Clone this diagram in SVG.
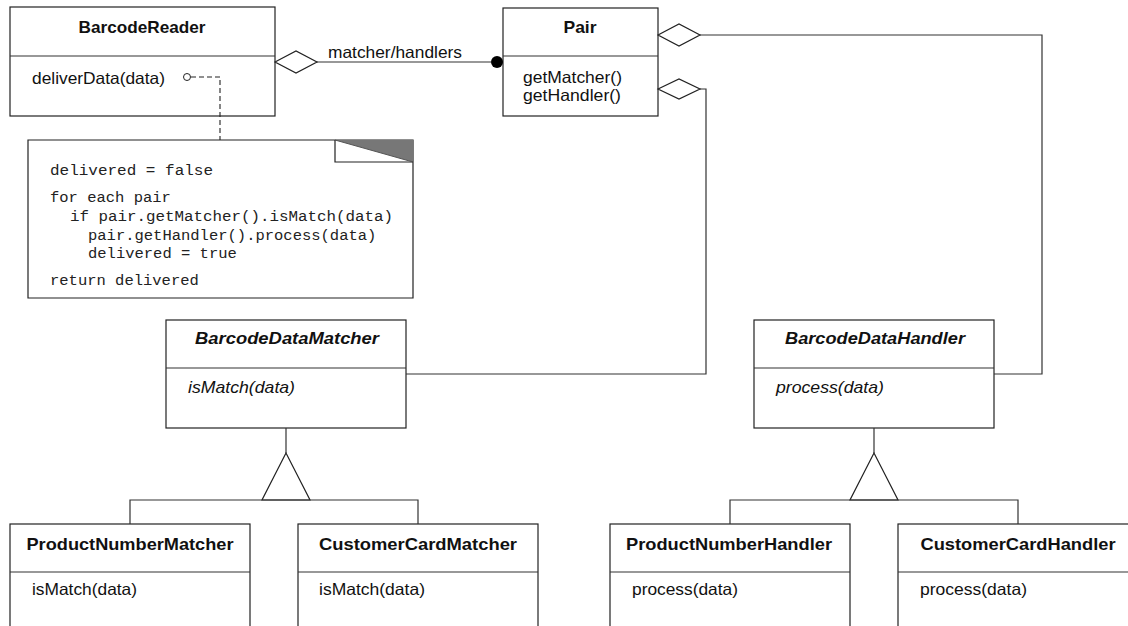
<svg xmlns="http://www.w3.org/2000/svg" width="1128" height="626" viewBox="0 0 1128 626">
<style>
.box{fill:#fff;stroke:#222;stroke-width:1.2}
.ln{fill:none;stroke:#333;stroke-width:1.2}
.dia{fill:#fff;stroke:#222;stroke-width:1.2}
.t{font-family:"Liberation Sans",Arial,sans-serif;font-size:16.5px;fill:#111}
.b{font-weight:bold;text-anchor:middle}
.i{font-style:italic}
.m{font-family:"Liberation Mono","Courier New",monospace;font-size:15.5px;fill:#222}
</style>
<rect width="1128" height="626" fill="#fff"/>
<g id="BarcodeReader">
  <rect class="box" x="10" y="7" width="265" height="109"/>
  <line class="ln" x1="10" y1="56" x2="275" y2="56"/>
  <text class="t b" x="142" y="33" textLength="127" lengthAdjust="spacingAndGlyphs">BarcodeReader</text>
  <text class="t" x="32" y="84" textLength="133" lengthAdjust="spacingAndGlyphs">deliverData(data)</text>
</g>
<g id="Pair">
  <rect class="box" x="503" y="8" width="155" height="108"/>
  <line class="ln" x1="503" y1="56" x2="658" y2="56"/>
  <text class="t b" x="580" y="33" textLength="33" lengthAdjust="spacingAndGlyphs">Pair</text>
  <text class="t" x="523" y="83" textLength="99" lengthAdjust="spacingAndGlyphs">getMatcher()</text>
  <text class="t" x="523" y="101" textLength="98" lengthAdjust="spacingAndGlyphs">getHandler()</text>
</g>
<g id="note">
  <path d="M28,140 H413 V298 H28 Z" fill="#fff" stroke="#222" stroke-width="1.2"/>
  <polygon points="335,140 413,140 413,162" fill="#777"/>
  <polyline points="335,140 335,162 413,162" fill="none" stroke="#222" stroke-width="1.2"/>
  <line x1="335" y1="140" x2="413" y2="162" stroke="#555" stroke-width="1"/>
  <text class="m" x="50" y="175" textLength="163" lengthAdjust="spacingAndGlyphs">delivered = false</text>
  <text class="m" x="50" y="202">for each pair</text>
  <text class="m" x="70" y="221" textLength="323" lengthAdjust="spacingAndGlyphs">if pair.getMatcher().isMatch(data)</text>
  <text class="m" x="88" y="240">pair.getHandler().process(data)</text>
  <text class="m" x="88" y="258">delivered = true</text>
  <text class="m" x="50" y="285">return delivered</text>
</g>
<g id="BarcodeDataMatcher">
  <rect class="box" x="166" y="320" width="240" height="108"/>
  <line class="ln" x1="166" y1="368" x2="406" y2="368"/>
  <text class="t b i" x="287" y="344" textLength="184" lengthAdjust="spacingAndGlyphs">BarcodeDataMatcher</text>
  <text class="t i" x="188" y="393" textLength="107" lengthAdjust="spacingAndGlyphs">isMatch(data)</text>
</g>
<g id="BarcodeDataHandler">
  <rect class="box" x="754" y="320" width="240" height="108"/>
  <line class="ln" x1="754" y1="368" x2="994" y2="368"/>
  <text class="t b i" x="875" y="344" textLength="180" lengthAdjust="spacingAndGlyphs">BarcodeDataHandler</text>
  <text class="t i" x="776" y="393" textLength="108" lengthAdjust="spacingAndGlyphs">process(data)</text>
</g>
<g id="ProductNumberMatcher">
  <rect class="box" x="10" y="524" width="240" height="120"/>
  <line class="ln" x1="10" y1="572" x2="250" y2="572"/>
  <text class="t b" x="130" y="550" textLength="207" lengthAdjust="spacingAndGlyphs">ProductNumberMatcher</text>
  <text class="t" x="32" y="595" textLength="105" lengthAdjust="spacingAndGlyphs">isMatch(data)</text>
</g>
<g id="CustomerCardMatcher">
  <rect class="box" x="298" y="524" width="240" height="120"/>
  <line class="ln" x1="298" y1="572" x2="538" y2="572"/>
  <text class="t b" x="418" y="550" textLength="198" lengthAdjust="spacingAndGlyphs">CustomerCardMatcher</text>
  <text class="t" x="319" y="595" textLength="106" lengthAdjust="spacingAndGlyphs">isMatch(data)</text>
</g>
<g id="ProductNumberHandler">
  <rect class="box" x="610" y="524" width="240" height="120"/>
  <line class="ln" x1="610" y1="572" x2="850" y2="572"/>
  <text class="t b" x="729" y="550" textLength="206" lengthAdjust="spacingAndGlyphs">ProductNumberHandler</text>
  <text class="t" x="632" y="595" textLength="106" lengthAdjust="spacingAndGlyphs">process(data)</text>
</g>
<g id="CustomerCardHandler">
  <rect class="box" x="898" y="524" width="240" height="120"/>
  <line class="ln" x1="898" y1="572" x2="1138" y2="572"/>
  <text class="t b" x="1018" y="550" textLength="195" lengthAdjust="spacingAndGlyphs">CustomerCardHandler</text>
  <text class="t" x="920" y="595" textLength="107" lengthAdjust="spacingAndGlyphs">process(data)</text>
</g>
<g id="connectors">
  <line class="ln" x1="316" y1="62" x2="491" y2="62"/>
  <polygon class="dia" points="275,62 296,51 317,62 296,73"/>
  <circle cx="497" cy="62" r="6" fill="#000"/>
  <text class="t" x="328" y="58" textLength="134" lengthAdjust="spacingAndGlyphs">matcher/handlers</text>
  <polyline class="ln" points="700,35 1042,35 1042,374 994,374"/>
  <polygon class="dia" points="658,35 679,24 700,35 679,46"/>
  <polyline class="ln" points="700,89 706,89 706,374 406,374"/>
  <polygon class="dia" points="658,89 679,79 700,89 679,99"/>
  <polyline points="191,77 220,77 220,140" fill="none" stroke="#222" stroke-width="1.1" stroke-dasharray="5,3"/>
  <circle cx="187" cy="77" r="3.5" fill="#fff" stroke="#222" stroke-width="1"/>
  <line class="ln" x1="286" y1="428" x2="286" y2="453"/>
  <polygon class="dia" points="286,453 262,500 310,500"/>
  <polyline class="ln" points="130,524 130,500 418,500 418,524"/>
  <line class="ln" x1="874" y1="428" x2="874" y2="453"/>
  <polygon class="dia" points="874,453 850,500 898,500"/>
  <polyline class="ln" points="730,524 730,500 1018,500 1018,524"/>
</g>
</svg>
